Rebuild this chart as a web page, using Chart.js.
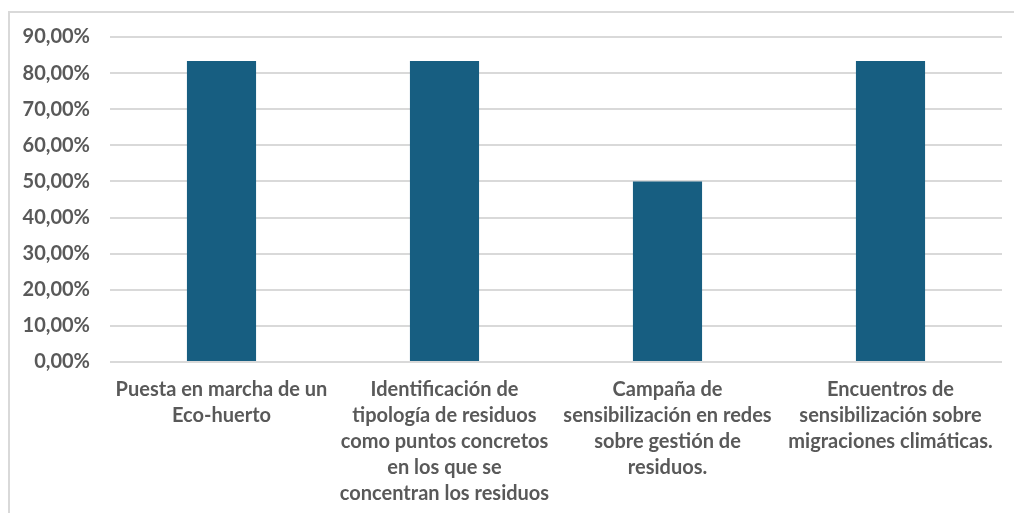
<!DOCTYPE html>
<html>
<head>
<meta charset="utf-8">
<script src="https://cdn.jsdelivr.net/npm/chart.js@4.4.0/dist/chart.umd.min.js"></script>
<style>
  html, body { margin: 0; padding: 0; background: #fff; overflow: hidden; }
  #frame { position: absolute; left: 8px; top: 11px; width: 1100px; height: 600px; border: 2px solid #d9d9d9; }
  #wrap { position: absolute; left: 0; top: 0; width: 1014px; height: 513px; }
</style>
</head>
<body>
<div id="frame"></div>
<div id="wrap"><canvas id="chart" width="1014" height="513"></canvas></div>
<script>
// categories (already split into lines as in the original)
var categories = [
    ["Puesta en marcha de un", "Eco-huerto"],
    ["Identificación de", "tipología de residuos", "como puntos concretos", "en los que se", "concentran los residuos"],
    ["Campaña de", "sensibilización en redes", "sobre gestión de", "residuos."],
    ["Encuentros de", "sensibilización sobre", "migraciones climáticas."]
];
var values = [83.33, 83.33, 50, 83.33];
var yMax = 90;
var yStep = 10;

var labelColor = "#595959";
var barColor = "#175e81";

var myChart = new Chart(document.getElementById("chart"), {
    type: 'bar',
    data: {
        labels: categories,
        datasets: [{
            data: values,
            backgroundColor: barColor,
            borderWidth: 0,
            barPercentage: 0.62,
            categoryPercentage: 0.5
        }]
    },
    options: {
        responsive: false,
        animation: false,
        devicePixelRatio: 1,
        layout: { padding: { top: 37, right: 12, left: 0, bottom: 0 } },
        plugins: { legend: { display: false }, tooltip: { enabled: false } },
        scales: {
            x: {
                grid: { display: false, drawTicks: false },
                border: { display: false },
                ticks: {
                    color: labelColor,
                    font: { family: "Lato", size: 20, weight: 'bold', lineHeight: 1.3 },
                    padding: 15,
                    maxRotation: 0,
                    autoSkip: false
                },
                afterFit: function (scale) { scale.height = 151; }
            },
            y: {
                min: 0,
                max: yMax,
                grid: { color: "#d9d9d9", lineWidth: 2, drawTicks: false },
                border: { display: false },
                ticks: {
                    stepSize: yStep,
                    color: labelColor,
                    font: { family: "Lato", size: 20, weight: 'bold' },
                    padding: 20,
                    callback: function (v) { return v.toFixed(2).replace('.', ',') + '%'; }
                },
                afterFit: function (scale) { scale.width = 110; }
            }
        }
    }
});
</script>
</body>
</html>
